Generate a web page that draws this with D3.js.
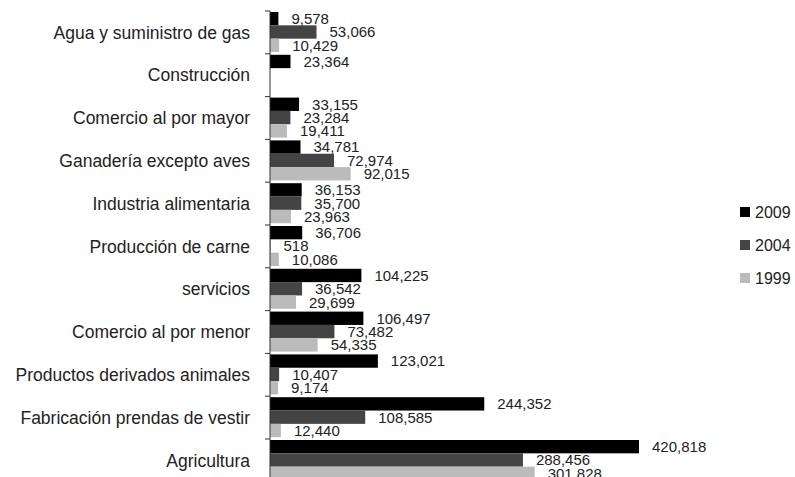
<!DOCTYPE html>
<html>
<head>
<meta charset="utf-8">
<script src="https://cdn.jsdelivr.net/npm/d3@7"></script>
<style>
  body { margin: 0; background: #fff; }
  text { font-family: "Liberation Sans", Arial, sans-serif; fill: #222; }
</style>
</head>
<body>
<svg id="chart" width="795" height="477"></svg>
<script>
var categories = [
  "Agua y suministro de gas",
  "Construcción",
  "Comercio al por mayor",
  "Ganadería excepto aves",
  "Industria alimentaria",
  "Producción de carne",
  "servicios",
  "Comercio al por menor",
  "Productos derivados animales",
  "Fabricación prendas de vestir",
  "Agricultura"
];
var years = ["2009", "2004", "1999"];
var values2009 = [9578, 23364, 33155, 34781, 36153, 36706, 104225, 106497, 123021, 244352, 420818];
var values2004 = [53066, null, 23284, 72974, 35700, 518, 36542, 73482, 10407, 108585, 288456];
var values1999 = [10429, null, 19411, 92015, 23963, 10086, 29699, 54335, 9174, 12440, 301828];
var colors = ["#000000", "#444444", "#bbbbbb"];

var series = [values2009, values2004, values1999];

var svg = d3.select("#chart");

var x = d3.scaleLinear()
    .domain([0, d3.max(values2009)])
    .range([270, 639]);

var y = d3.scaleBand()
    .domain(categories)
    .range([11, 11 + categories.length * 42.8]);

var ySub = d3.scaleBand()
    .domain(years)
    .range([1, 41]);

var color = d3.scaleOrdinal().domain(years).range(colors);

var fmt = d3.format(",");

// flatten rows
var rows = [];
categories.forEach((c, i) => {
  years.forEach((yr, j) => {
    if (series[j][i] != null) rows.push({cat: c, year: yr, value: series[j][i]});
  });
});

// bars
svg.append("g")
  .selectAll("rect")
  .data(rows)
  .enter().append("rect")
    .attr("x", x(0))
    .attr("y", d => y(d.cat) + ySub(d.year))
    .attr("width", d => x(d.value) - x(0))
    .attr("height", ySub.bandwidth())
    .attr("fill", d => color(d.year));

// value labels
svg.append("g")
  .selectAll("text")
  .data(rows)
  .enter().append("text")
    .attr("x", d => x(d.value) + 13)
    .attr("y", d => y(d.cat) + ySub(d.year) + ySub.bandwidth() / 2)
    .attr("dy", "0.36em")
    .style("font-size", "15px")
    .text(d => fmt(d.value));

// axis line and ticks at band boundaries
var axisG = svg.append("g");
axisG.append("line")
  .attr("x1", x(0)).attr("x2", x(0))
  .attr("y1", y.range()[0]).attr("y2", y.range()[1])
  .attr("stroke", "#333").attr("stroke-width", 1);

axisG.selectAll(".tick")
  .data(categories)
  .enter().append("line")
    .attr("x1", x(0) - 5).attr("x2", x(0))
    .attr("y1", d => y(d)).attr("y2", d => y(d))
    .attr("stroke", "#333");

// category labels
svg.append("g")
  .selectAll("text")
  .data(categories)
  .enter().append("text")
    .attr("x", 250)
    .attr("y", d => y(d) + y.bandwidth() / 2)
    .attr("dy", "0.35em")
    .attr("text-anchor", "end")
    .style("font-size", "17.5px")
    .text(d => d);

// legend
var legend = svg.append("g")
  .selectAll("g")
  .data(years)
  .enter().append("g")
    .attr("transform", (d, i) => "translate(740," + (212 + i * 33) + ")");

legend.append("rect")
  .attr("x", 0).attr("y", -5)
  .attr("width", 10).attr("height", 10)
  .attr("fill", d => color(d));

legend.append("text")
  .attr("x", 15)
  .attr("dy", "0.36em")
  .style("font-size", "16px")
  .text(d => d);
</script>
</body>
</html>
